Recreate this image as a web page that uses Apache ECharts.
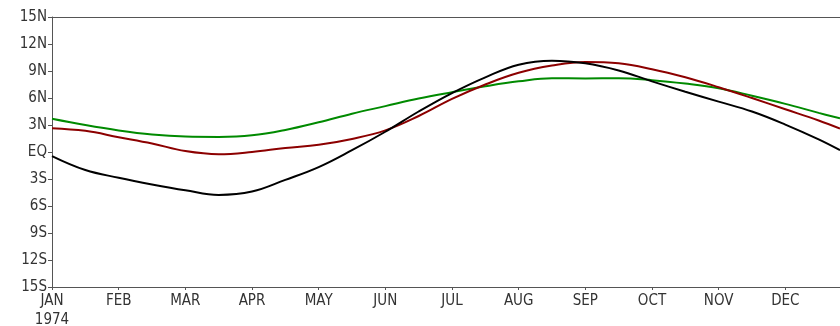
<!DOCTYPE html>
<html>
<head>
<meta charset="utf-8">
<script src="https://cdn.jsdelivr.net/npm/echarts@6/dist/echarts.min.js"></script>
<style>
html,body{margin:0;padding:0;background:#fff;}
#chart{width:840px;height:326px;}
</style>
</head>
<body>
<div id="chart"></div>
<script>
// Time positions in months since 1 Jan 1974
const timePos = [0,0.5,1,1.5,2,2.5,3,3.5,4,4.5,5,5.5,6,6.5,7,7.5,8,8.5,9,9.5,10,10.5,11,11.5,11.82];
// Latitude (deg, N positive)
const blackSeries = [-0.45,-2.0,-2.86,-3.6,-4.25,-4.77,-4.4,-3.1,-1.68,0.2,2.25,4.5,6.55,8.3,9.7,10.15,9.85,9.05,7.85,6.7,5.6,4.5,3.05,1.4,0.2];
const redSeries   = [2.65,2.35,1.65,0.95,0.1,-0.25,0.0,0.45,0.8,1.45,2.4,4.0,5.9,7.5,8.8,9.6,10.0,9.85,9.2,8.3,7.2,6.0,4.75,3.5,2.6];
const greenSeries = [3.7,3.0,2.4,1.95,1.72,1.68,1.85,2.45,3.3,4.25,5.1,5.95,6.65,7.3,7.85,8.2,8.18,8.19,7.98,7.6,7.08,6.25,5.35,4.35,3.74];
const monthLabels = ['JAN\n1974','FEB','MAR','APR','MAY','JUN','JUL','AUG','SEP','OCT','NOV','DEC'];

const pair = arr => timePos.map((t,i)=>[t,arr[i]]);
const font = '"DejaVu Sans Condensed","Liberation Sans Narrow","DejaVu Sans",sans-serif';
const axisCol = '#555';

const chart = echarts.init(document.getElementById('chart'));
chart.setOption({
  animation:false,
  grid:{left:52,right:0,top:17,bottom:39,containLabel:false,outerBoundsMode:'none'},
  xAxis:[{
    type:'value', min:0, max:11.82, interval:1, position:'bottom',
    axisLine:{show:true,onZero:false,lineStyle:{color:axisCol,width:1}},
    axisTick:{show:true,length:3,lineStyle:{color:axisCol}},
    splitLine:{show:false},
    axisLabel:{
      showMaxLabel:false,
      color:'#333', fontFamily:font, fontSize:15, lineHeight:19, margin:5,
      formatter:v=> Number.isInteger(v) ? (monthLabels[v]||'') : ''
    }
  },{
    type:'value', position:'top', min:0, max:11.82,
    axisLine:{show:true,onZero:false,lineStyle:{color:axisCol,width:1}},
    axisTick:{show:false}, axisLabel:{show:false}, splitLine:{show:false}
  }],
  yAxis:{
    type:'value', min:-15, max:15, interval:3,
    axisLine:{show:true,onZero:false,lineStyle:{color:axisCol,width:1}},
    axisTick:{show:true,length:4,lineStyle:{color:axisCol}},
    splitLine:{show:false},
    axisLabel:{
      color:'#333', fontFamily:font, fontSize:15, margin:5,
      formatter:v=> v>0 ? v+'N' : (v<0 ? (-v)+'S' : 'EQ')
    }
  },
  series:[
    {type:'line',data:pair(greenSeries),smooth:0.4,showSymbol:false,lineStyle:{color:'#008a00',width:2},z:2},
    {type:'line',data:pair(redSeries),smooth:0.4,showSymbol:false,lineStyle:{color:'#8c0000',width:2},z:3},
    {type:'line',data:pair(blackSeries),smooth:0.4,showSymbol:false,lineStyle:{color:'#000',width:2},z:4}
  ]
});
</script>
</body>
</html>
